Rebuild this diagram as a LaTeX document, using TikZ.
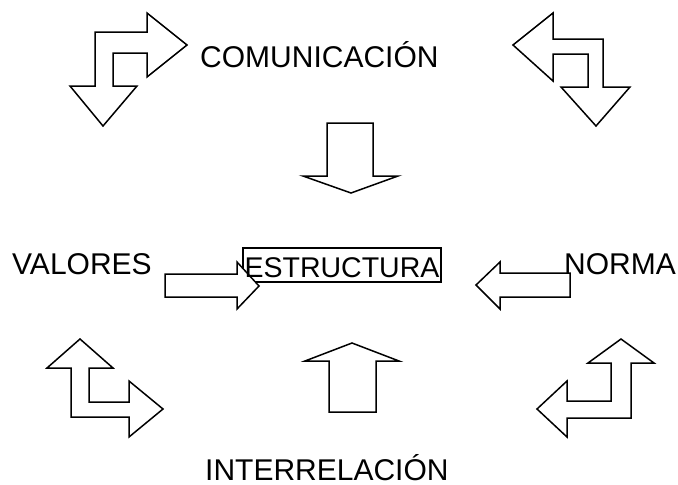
\documentclass[tikz,border=0pt]{standalone}
\usepackage{fontspec}
\setmainfont{Liberation Sans}
\tikzset{
  blockarrow/.style={draw=black, fill=white, line width=1.5pt, line join=miter},
  lbl/.style={inner sep=0pt, anchor=base west, font=\fontsize{30}{34}\selectfont},
  boxtxt/.style={inner sep=0pt, minimum width=198pt, text height=29pt,
    text depth=5pt, anchor=base, font=\fontsize{28.5}{34}\selectfont},
}
\begin{document}
\begin{tikzpicture}[x=1pt, y=-1pt]
\useasboundingbox (0,0) rectangle (678,485);
% texts
\node[lbl] (comu) at (200,67) {COMUNICACIÓN};
\node[lbl] (valo) at (12,274) {VALORES};
\node[lbl] (norm) at (564,274) {NORMA};
\node[lbl] (inter) at (205,480) {INTERRELACIÓN};
% central box (border first, text drawn last)
\node[boxtxt, draw, line width=1.5pt] (estr) at (342,277) {\phantom{ESTRUCTURA}};
% top-left bent arrow
\draw[blockarrow] (95,32) -- (147,32) -- (147,13) -- (187,45) -- (147,77) -- (147,53)
  -- (113,53) -- (113,86) -- (137,86) -- (103,126) -- (70,86) -- (95,86) -- cycle;
% top-right bent arrow
\draw[blockarrow] (553,39) -- (603,39) -- (603,87) -- (630,87) -- (596,126) -- (561,87)
  -- (588,87) -- (588,54) -- (553,54) -- (553,81) -- (513,45) -- (553,13) -- cycle;
% bottom-left bent arrow
\draw[blockarrow] (71,417) -- (71,368) -- (47,368) -- (80,339) -- (113,368) -- (89,368)
  -- (89,402) -- (129,402) -- (129,381) -- (163,409) -- (129,437) -- (129,417) -- cycle;
% bottom-right bent arrow
\draw[blockarrow] (631,363) -- (654,363) -- (621,339) -- (588,363) -- (611,363) -- (611,401)
  -- (567,401) -- (567,381) -- (537,409) -- (567,437) -- (567,418) -- (631,418) -- cycle;
% top center down arrow
\draw[blockarrow] (327,123) -- (373,123) -- (373,176) -- (398,176) -- (351,193)
  -- (303,176) -- (327,176) -- cycle;
% bottom center up arrow
\draw[blockarrow] (329,412) -- (329,361) -- (305,361) -- (352,343) -- (399,361)
  -- (376,361) -- (376,412) -- cycle;
% left horizontal arrow
\draw[blockarrow] (165,274) -- (237,274) -- (237,262) -- (259,286) -- (237,309)
  -- (237,297) -- (165,297) -- cycle;
% right horizontal arrow
\draw[blockarrow] (570,273) -- (500,273) -- (500,262) -- (476,285) -- (500,309)
  -- (500,297) -- (570,297) -- cycle;
% box text on top
\node[boxtxt] (estrtxt) at (estr.base) {ESTRUCTURA};
\end{tikzpicture}
\end{document}
